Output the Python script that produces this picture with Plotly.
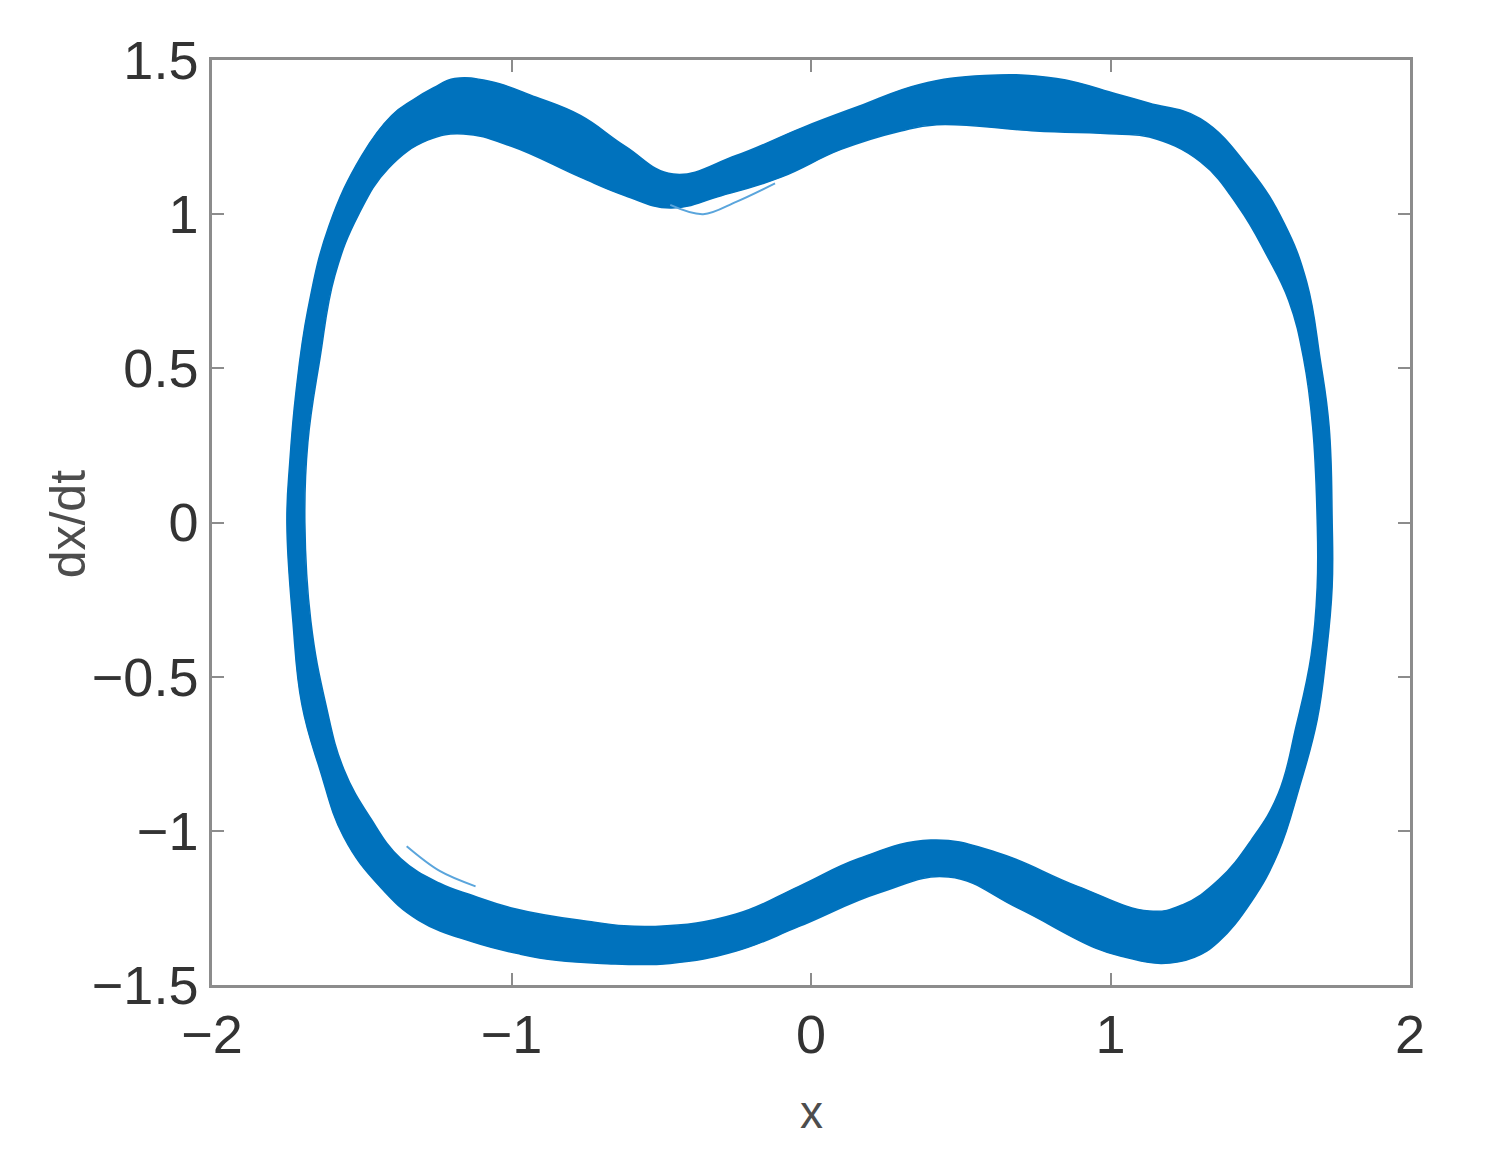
import plotly.graph_objects as go

# Outer boundary of the trajectory band (x, dx/dt)
outer_x = [-1.75, -1.74, -1.72, -1.68, -1.61, -1.50, -1.40, -1.33, -1.26, -1.19, -1.07, -0.92, -0.77, -0.62,
           -0.46, -0.25, -0.03, 0.16, 0.36, 0.58, 0.82, 1.02, 1.13, 1.30, 1.47, 1.58, 1.655, 1.70, 1.73, 1.74,
           1.74, 1.72, 1.69, 1.63, 1.56, 1.47, 1.36, 1.28, 1.17, 1.05, 0.95, 0.69, 0.46, 0.23, -0.04, -0.25,
           -0.47, -0.70, -0.85, -0.97, -1.13, -1.31, -1.44, -1.56, -1.64, -1.70, -1.73, -1.75]
outer_y = [0.00, 0.20, 0.42, 0.69, 0.96, 1.19, 1.32, 1.37, 1.41, 1.44, 1.43, 1.38, 1.32, 1.22,
           1.13, 1.19, 1.28, 1.35, 1.42, 1.45, 1.44, 1.39, 1.36, 1.31, 1.14, 0.97, 0.78, 0.53, 0.31, 0.01,
           -0.21, -0.43, -0.64, -0.86, -1.07, -1.23, -1.36, -1.41, -1.43, -1.41, -1.38, -1.25, -1.15, -1.20, -1.31, -1.39,
           -1.43, -1.43, -1.42, -1.40, -1.36, -1.29, -1.18, -1.02, -0.80, -0.59, -0.32, 0.00]

# Inner boundary of the band
inner_x = [-1.69, -1.68, -1.64, -1.59, -1.51, -1.41, -1.28, -1.16, -1.00, -0.77, -0.62, -0.47, -0.30, -0.10,
           0.10, 0.30, 0.42, 0.75, 1.02, 1.13, 1.30, 1.43, 1.52, 1.595, 1.645, 1.675, 1.69, 1.69, 1.67, 1.62,
           1.56, 1.47, 1.36, 1.24, 1.13, 0.89, 0.62, 0.40, 0.16, -0.04, -0.25, -0.52, -0.77, -1.00, -1.13,
           -1.24, -1.37, -1.47, -1.56, -1.62, -1.67, -1.69]
inner_y = [0.00, 0.26, 0.53, 0.80, 1.00, 1.15, 1.24, 1.26, 1.22, 1.12, 1.06, 1.02, 1.06, 1.12,
           1.21, 1.27, 1.29, 1.27, 1.26, 1.25, 1.17, 1.02, 0.87, 0.72, 0.53, 0.31, 0.01, -0.21, -0.43, -0.66,
           -0.88, -1.03, -1.16, -1.24, -1.26, -1.18, -1.07, -1.03, -1.09, -1.18, -1.27, -1.31, -1.29, -1.25, -1.21,
           -1.17, -1.09, -0.96, -0.80, -0.59, -0.32, 0.00]

# Stray trajectories visible just inside the band
stray1_x = [-0.47, -0.36, -0.25, -0.12]
stray1_y = [1.03, 1.00, 1.04, 1.10]
stray2_x = [-1.35, -1.24, -1.12]
stray2_y = [-1.05, -1.13, -1.18]

x_ticks = [-2, -1, 0, 1, 2]
x_labels = ["\u22122", "\u22121", "0", "1", "2"]
y_ticks = [-1.5, -1, -0.5, 0, 0.5, 1, 1.5]
y_labels = ["\u22121.5", "\u22121", "\u22120.5", "0", "0.5", "1", "1.5"]

BLUE = "#0072BD"
LIGHT = "#5aa5dc"

fig = go.Figure()
fig.add_trace(go.Scatter(x=outer_x, y=outer_y, mode="lines",
                         line=dict(color=BLUE, width=1.5, shape="spline", smoothing=1.2),
                         fill="toself", fillcolor=BLUE, hoverinfo="skip", showlegend=False))
fig.add_trace(go.Scatter(x=inner_x, y=inner_y, mode="lines",
                         line=dict(color=BLUE, width=1.5, shape="spline", smoothing=1.2),
                         fill="toself", fillcolor="white", hoverinfo="skip", showlegend=False))
for sx, sy in ((stray1_x, stray1_y), (stray2_x, stray2_y)):
    fig.add_trace(go.Scatter(x=sx, y=sy, mode="lines", line=dict(color=LIGHT, width=2, shape="spline"),
                             hoverinfo="skip", showlegend=False))

axis_common = dict(showline=True, mirror="ticks", linecolor="#8c8c8c", linewidth=2.5,
                   ticks="inside", ticklen=12, tickwidth=2, tickcolor="#8c8c8c",
                   showgrid=False, zeroline=False)

# the page body adds an 8px offset, so margins are reduced by 8px on the left/top
fig.update_layout(
    width=1485, height=1164,
    margin=dict(l=204, r=83, t=52, b=187),
    paper_bgcolor="white", plot_bgcolor="white",
    xaxis=dict(range=[-2, 2], tickvals=x_ticks, ticktext=x_labels,
               tickfont=dict(family="Liberation Sans, Arial", size=54, color="#333333"),
               **axis_common),
    yaxis=dict(range=[-1.5, 1.5], tickvals=y_ticks, ticktext=y_labels,
               tickfont=dict(family="Liberation Sans, Arial", size=54, color="#333333"),
               **axis_common),
    annotations=[
        dict(text="x", xref="paper", yref="paper", x=0.5, y=-0.137, xanchor="center", yanchor="middle",
             showarrow=False, font=dict(family="Liberation Sans, Arial", size=46, color="#4d4d4d")),
        dict(text="dx/dt", xref="paper", yref="paper", x=-0.1202, y=0.498, xanchor="center", yanchor="middle",
             textangle=-90, showarrow=False, font=dict(family="Liberation Sans, Arial", size=50, color="#4d4d4d")),
    ],
)

fig.write_html("out.html")
